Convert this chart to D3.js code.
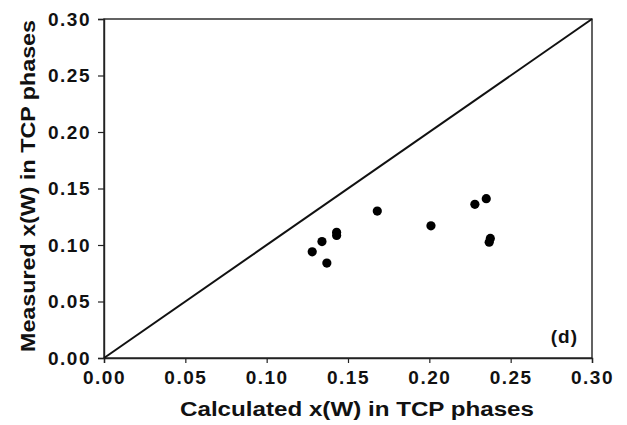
<!DOCTYPE html>
<html>
<head>
<meta charset="utf-8">
<script src="https://cdn.jsdelivr.net/npm/d3@7"></script>
<style>
  body { margin: 0; background: #fff; }
  svg text { font-family: "Liberation Sans", Arial, sans-serif; font-weight: bold; fill: #111; }
</style>
</head>
<body>
<div id="chart"></div>
<script>
// calculated vs measured x(W) in TCP phases
const calculated = [0.128, 0.134, 0.137, 0.143, 0.143, 0.168, 0.201, 0.228, 0.235, 0.2375, 0.2368];
const measured   = [0.094, 0.103, 0.084, 0.1113, 0.1084, 0.130, 0.117, 0.136, 0.141, 0.1058, 0.1025];
const tickValues = [0, 0.05, 0.10, 0.15, 0.20, 0.25, 0.30];
const diagonal = [[0, 0], [0.30, 0.30]];

const W = 627, H = 425;
const margin = { top: 19, right: 35, bottom: 67, left: 104 };
const width = W - margin.left - margin.right;
const height = H - margin.top - margin.bottom;

const svg = d3.select("#chart").append("svg")
  .attr("width", W)
  .attr("height", H);

const g = svg.append("g")
  .attr("transform", `translate(${margin.left}, ${margin.top})`);

const x = d3.scaleLinear().domain([0, 0.30]).range([0, width]);
const y = d3.scaleLinear().domain([0, 0.30]).range([height, 0]);
const fmt = d3.format(".2f");

// frame
g.append("rect")
  .attr("width", width)
  .attr("height", height)
  .attr("fill", "none")
  .attr("stroke", "#222")
  .attr("stroke-width", 1.4);

const xAxis = g.append("g")
  .attr("transform", `translate(0, ${height})`)
  .call(d3.axisBottom(x).tickValues(tickValues).tickFormat(fmt).tickSize(5).tickPadding(8));

const yAxis = g.append("g")
  .call(d3.axisLeft(y).tickValues(tickValues).tickFormat(fmt).tickSize(6).tickPadding(7));

[xAxis, yAxis].forEach(a => {
  a.attr("font-family", null).attr("font-size", null);
  a.select(".domain").attr("stroke", "#222").attr("stroke-width", 1.4);
  a.selectAll(".tick line").attr("stroke", "#222").attr("stroke-width", 1.2);
  a.selectAll(".tick text")
    .style("font-size", "19px")
    .style("letter-spacing", "1.5px");
});

// y = x line
g.append("path")
  .datum(diagonal)
  .attr("fill", "none")
  .attr("stroke", "#111")
  .attr("stroke-width", 2)
  .attr("d", d3.line().x(d => x(d[0])).y(d => y(d[1])));

g.selectAll("circle")
  .data(calculated.map((c, i) => ({ c, m: measured[i] })))
  .enter()
  .append("circle")
    .attr("cx", d => x(d.c))
    .attr("cy", d => y(d.m))
    .attr("r", 4.6)
    .attr("fill", "#000");

g.append("text")
  .attr("x", width - 14)
  .attr("y", height - 15)
  .attr("text-anchor", "end")
  .style("font-size", "19px")
  .style("letter-spacing", "1px")
  .text("(d)");

svg.append("text")
  .attr("x", 357)
  .attr("y", 416)
  .attr("text-anchor", "middle")
  .attr("font-size", 20)
  .attr("textLength", 354)
  .attr("lengthAdjust", "spacingAndGlyphs")
  .text("Calculated x(W) in TCP phases");

svg.append("text")
  .attr("transform", "translate(35, 186) rotate(-90)")
  .attr("text-anchor", "middle")
  .attr("font-size", 20)
  .attr("textLength", 332)
  .attr("lengthAdjust", "spacingAndGlyphs")
  .text("Measured x(W) in TCP phases");
</script>
</body>
</html>
